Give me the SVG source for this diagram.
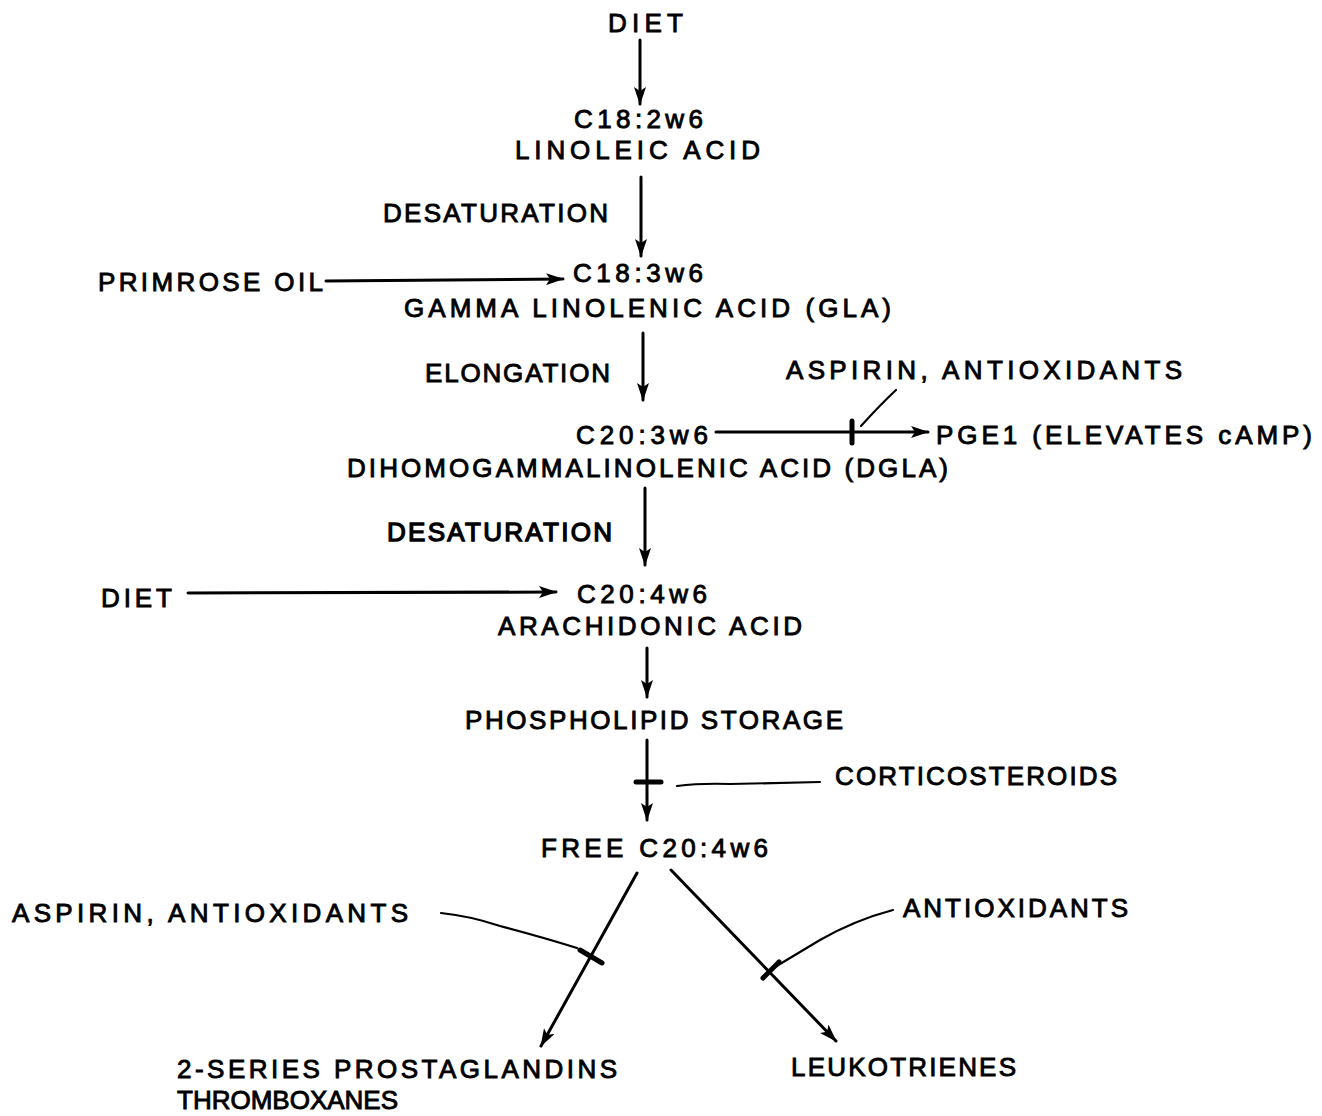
<svg xmlns="http://www.w3.org/2000/svg" width="1322" height="1116" viewBox="0 0 1322 1116">
<style>
text{font-family:"Liberation Sans",Arial,sans-serif;font-size:26px;fill:#000;stroke:#000;stroke-width:0.9}
.c{fill:none;stroke:#000;stroke-width:3;stroke-linecap:round}
.bar{fill:none;stroke:#000;stroke-width:5;stroke-linecap:round}
.thin{fill:none;stroke:#000;stroke-width:2.2;stroke-linecap:round}
</style>
<defs>
<marker id="ah" viewBox="0 0 18 12" refX="17" refY="6" markerWidth="18" markerHeight="12" markerUnits="userSpaceOnUse" orient="auto">
<path d="M0,0 L18,6 L0,12 L4,6 Z" fill="#000"/>
</marker>
</defs>
<rect width="1322" height="1116" fill="#fff"/>
<g id="connectors">
<line class="c" x1="640" y1="40" x2="640" y2="104" marker-end="url(#ah)"/>
<line class="c" x1="641" y1="177" x2="641" y2="256" marker-end="url(#ah)"/>
<line class="c" x1="326" y1="281" x2="563" y2="279" marker-end="url(#ah)"/>
<line class="c" x1="643" y1="333" x2="643" y2="400" marker-end="url(#ah)"/>
<line class="c" x1="716" y1="432" x2="928" y2="432" marker-end="url(#ah)"/>
<line class="bar" x1="852" y1="421" x2="852" y2="443"/>
<path class="thin" d="M896,390 Q880,405 861,426"/>
<line class="c" x1="645" y1="488" x2="645" y2="565" marker-end="url(#ah)"/>
<line class="c" x1="188" y1="593" x2="556" y2="592" marker-end="url(#ah)"/>
<line class="c" x1="647" y1="648" x2="647" y2="697" marker-end="url(#ah)"/>
<line class="c" x1="647" y1="740" x2="647" y2="820" marker-end="url(#ah)"/>
<line class="bar" x1="636" y1="782" x2="661" y2="782"/>
<path class="thin" d="M677,786 Q700,783 730,784 Q780,783 820,782"/>
<line class="c" x1="637" y1="873" x2="541" y2="1046" marker-end="url(#ah)"/>
<line class="bar" x1="580" y1="950" x2="602" y2="963"/>
<path class="thin" d="M441,913 Q470,916 500,926 Q545,938 577,948"/>
<line class="c" x1="671" y1="870" x2="836" y2="1041" marker-end="url(#ah)"/>
<line class="bar" x1="763" y1="978" x2="779" y2="962"/>
<path class="thin" d="M893,910 Q855,920 820,940 Q795,955 775,967"/>
</g>
<g id="n-diet-top"><text x="608" y="32" textLength="75" lengthAdjust="spacing">DIET</text></g>
<g id="n-c18-2"><text x="574" y="128" textLength="129" lengthAdjust="spacing">C18:2w6</text><text x="515" y="159" textLength="245" lengthAdjust="spacing">LINOLEIC ACID</text></g>
<g id="l-desat1"><text x="383" y="222" textLength="225" lengthAdjust="spacing">DESATURATION</text></g>
<g id="n-primrose"><text x="98" y="291" textLength="225" lengthAdjust="spacing">PRIMROSE OIL</text></g>
<g id="n-c18-3"><text x="573" y="282" textLength="130" lengthAdjust="spacing">C18:3w6</text><text x="404" y="317" textLength="487" lengthAdjust="spacing">GAMMA LINOLENIC ACID (GLA)</text></g>
<g id="l-elong"><text x="425" y="382" textLength="185" lengthAdjust="spacing">ELONGATION</text></g>
<g id="n-asp1"><text x="786" y="379" textLength="396" lengthAdjust="spacing">ASPIRIN, ANTIOXIDANTS</text></g>
<g id="n-c20-3"><text x="576" y="444" textLength="132" lengthAdjust="spacing">C20:3w6</text><text x="347" y="477" textLength="601" lengthAdjust="spacing">DIHOMOGAMMALINOLENIC ACID (DGLA)</text></g>
<g id="n-pge1"><text x="936" y="444" textLength="376" lengthAdjust="spacing">PGE1 (ELEVATES cAMP)</text></g>
<g id="l-desat2"><text x="387" y="541" textLength="225" lengthAdjust="spacing" style="stroke-width:1.3">DESATURATION</text></g>
<g id="n-diet2"><text x="101" y="607" textLength="71" lengthAdjust="spacing">DIET</text></g>
<g id="n-c20-4"><text x="577" y="603" textLength="130" lengthAdjust="spacing">C20:4w6</text><text x="498" y="635" textLength="304" lengthAdjust="spacing">ARACHIDONIC ACID</text></g>
<g id="n-phospho"><text x="465" y="729" textLength="378" lengthAdjust="spacing">PHOSPHOLIPID STORAGE</text></g>
<g id="n-cortico"><text x="835" y="785" textLength="282" lengthAdjust="spacing">CORTICOSTEROIDS</text></g>
<g id="n-free"><text x="541" y="857" textLength="227" lengthAdjust="spacing">FREE C20:4w6</text></g>
<g id="n-asp2"><text x="12" y="922" textLength="396" lengthAdjust="spacing">ASPIRIN, ANTIOXIDANTS</text></g>
<g id="n-antiox"><text x="903" y="917" textLength="225" lengthAdjust="spacing">ANTIOXIDANTS</text></g>
<g id="n-prost"><text x="177" y="1078" textLength="440" lengthAdjust="spacing">2-SERIES PROSTAGLANDINS</text><text x="177" y="1109">THROMBOXANES</text></g>
<g id="n-leuko"><text x="791" y="1076" textLength="225" lengthAdjust="spacing">LEUKOTRIENES</text></g>
</svg>
